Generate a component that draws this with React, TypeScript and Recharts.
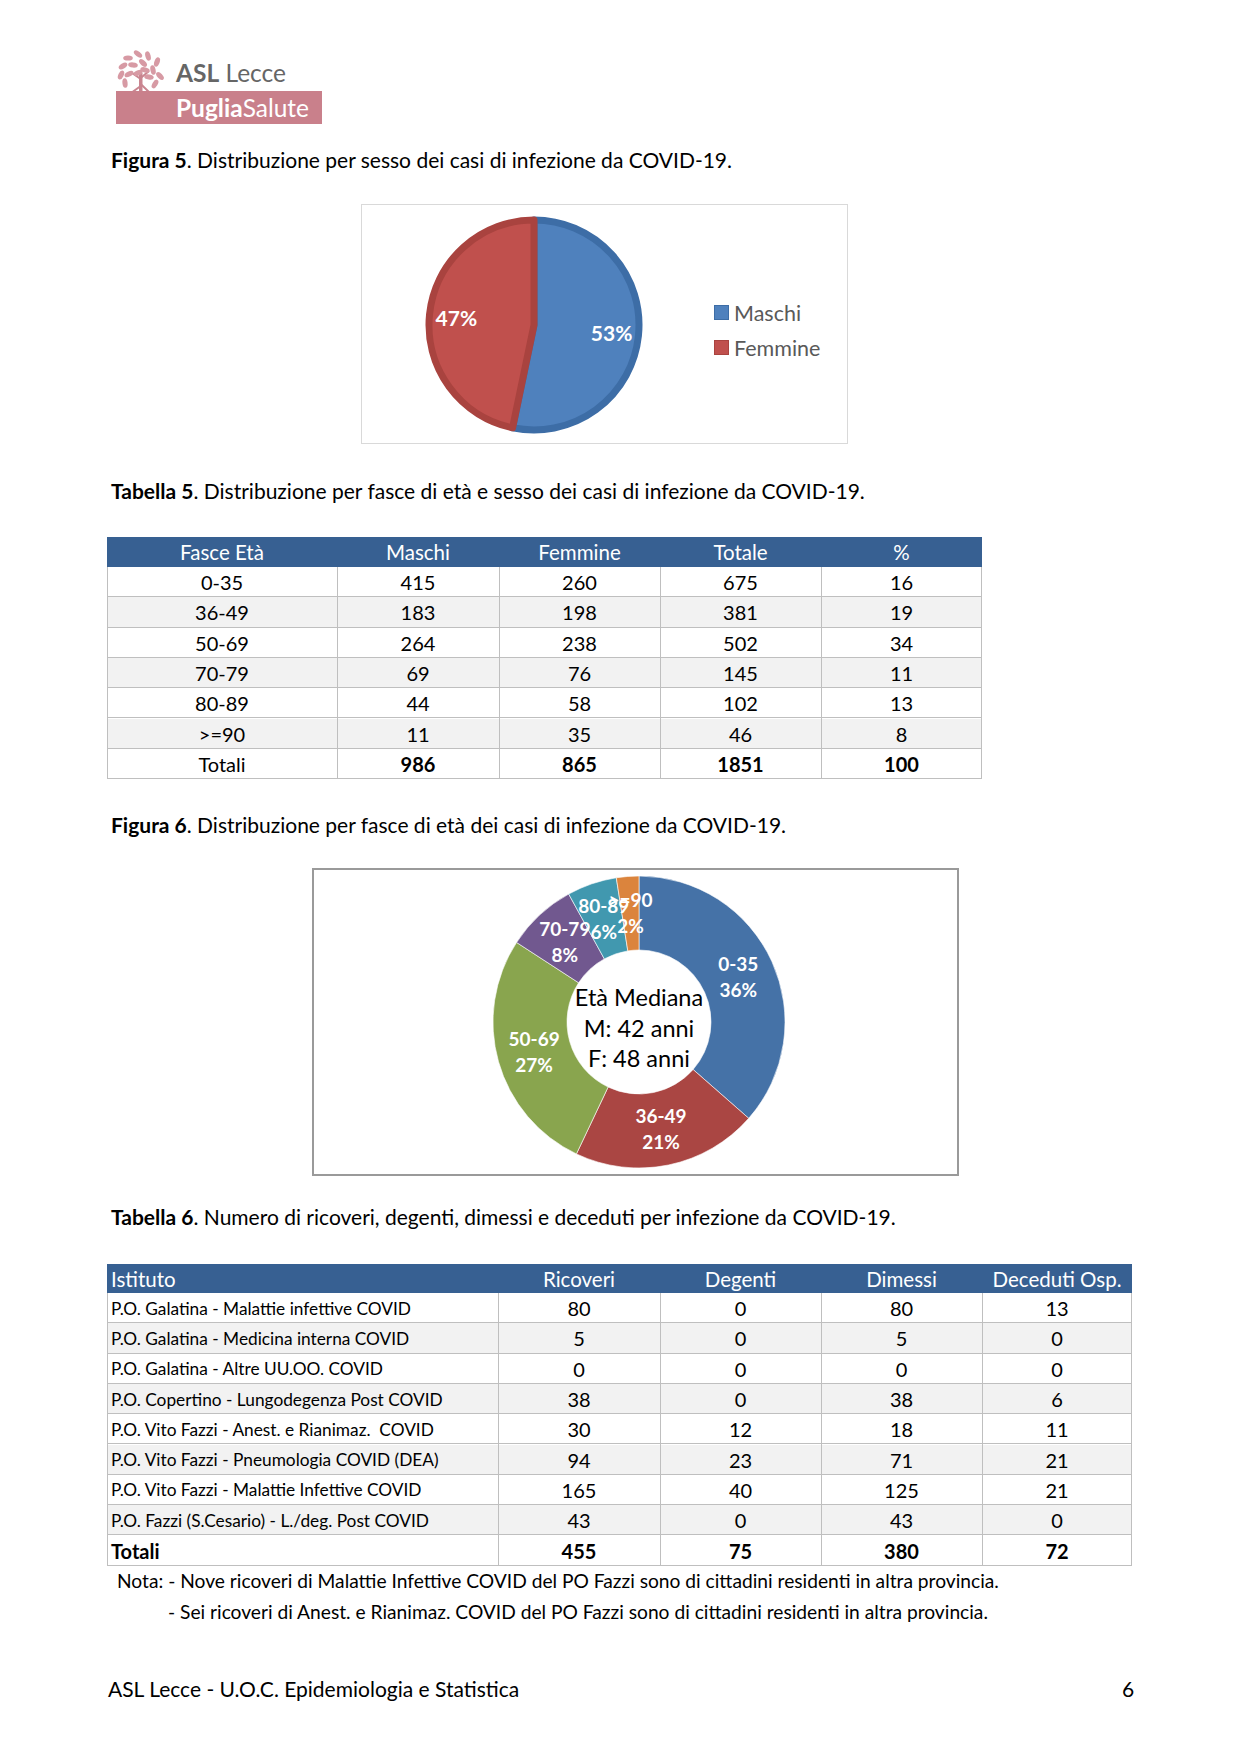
import React from 'react';
import { PieChart, Pie, Cell, Legend } from 'recharts';

const FONT = 'Lato, "Open Sans", sans-serif';
const RAD = Math.PI / 180;
const NO_MARGIN = { top: 0, right: 0, bottom: 0, left: 0 };

// Figura 5 - casi per sesso
const sexLabels = ['Maschi', 'Femmine'];
const sexCases = [986, 865];

// Tabella 5 / Figura 6 - fasce di età
const ageBands = ['0-35', '36-49', '50-69', '70-79', '80-89', '>=90'];
const ageMale = [415, 183, 264, 69, 44, 11];
const ageFemale = [260, 198, 238, 76, 58, 35];
const ageTotal = [675, 381, 502, 145, 102, 46];
const agePct = [16, 19, 34, 11, 13, 8];
const ageTotalsRow = [986, 865, 1851, 100];
const ageHeaders = ['Fasce Età', 'Maschi', 'Femmine', 'Totale', '%'];

// Tabella 6 - ricoveri
const wards = [
  'P.O. Galatina - Malattie infettive COVID',
  'P.O. Galatina - Medicina interna COVID',
  'P.O. Galatina - Altre UU.OO. COVID',
  'P.O. Copertino - Lungodegenza Post COVID',
  'P.O. Vito Fazzi - Anest. e Rianimaz.  COVID',
  'P.O. Vito Fazzi - Pneumologia COVID (DEA)',
  'P.O. Vito Fazzi - Malattie Infettive COVID',
  'P.O. Fazzi (S.Cesario) - L./deg. Post COVID',
];
const ricoveri = [80, 5, 0, 38, 30, 94, 165, 43];
const degenti = [0, 0, 0, 0, 12, 23, 40, 0];
const dimessi = [80, 5, 0, 38, 18, 71, 125, 43];
const deceduti = [13, 0, 0, 6, 11, 21, 21, 0];
const wardHeaders = ['Istituto', 'Ricoveri', 'Degenti', 'Dimessi', 'Deceduti Osp.'];

const SEX_FILL = ['#4f81bd', '#c0504d'];
const SEX_EDGE = ['#3d6da6', '#a9433f'];
const AGE_COLORS = ['#4572a7', '#aa4643', '#89a54e', '#71588f', '#4198af', '#db843d'];
const HEAD_BG = '#376092';
const ROW_ALT = '#f2f2f2';
const GRID = '#bfbfbf';

const sum = (a: number[]) => a.reduce((s, v) => s + v, 0);

const sexData = sexLabels.map((name, i) => ({ name, value: sexCases[i] }));
const ageData = ageBands.map((name, i) => ({ name, value: ageTotal[i] }));

type TxtProps = {
  x: number;
  y: number;
  size?: number;
  children: React.ReactNode;
  color?: string;
};

// testo posizionato col centro verticale su y
const Txt = ({ x, y, size = 21, children, color = '#000' }: TxtProps) => (
  <div
    style={{
      position: 'absolute',
      left: x,
      top: y - size * 0.65,
      fontSize: size,
      lineHeight: `${size * 1.3}px`,
      whiteSpace: 'pre',
      color,
    }}
  >
    {children}
  </div>
);

type GridProps = {
  left: number;
  top: number;
  cols: number[];
  headH: number;
  rowH: number;
  headers: string[];
  rows: (string | number)[][];
  firstLeft?: boolean;
  firstSize?: number;
  lastBold?: boolean;
};

const Grid = ({ left, top, cols, headH, rowH, headers, rows, firstLeft, firstSize = 20, lastBold }: GridProps) => {
  const width = cols[cols.length - 1] - cols[0];
  const cells: React.ReactNode[] = [];
  headers.forEach((h, c) => {
    cells.push(
      <div
        key={`h${c}`}
        style={{
          position: 'absolute',
          left: cols[c] - left,
          top: 0,
          width: cols[c + 1] - cols[c],
          height: headH,
          display: 'flex',
          alignItems: 'center',
          justifyContent: firstLeft && c === 0 ? 'flex-start' : 'center',
          paddingLeft: firstLeft && c === 0 ? 4 : 0,
          boxSizing: 'border-box',
          color: '#fff',
          fontSize: 20.5,
        }}
      >
        {h}
      </div>,
    );
  });
  rows.forEach((row, r) => {
    const isLast = r === rows.length - 1;
    const y = headH + r * rowH;
    cells.push(
      <div
        key={`bg${r}`}
        style={{
          position: 'absolute',
          left: 0,
          top: y,
          width,
          height: rowH,
          background: r % 2 === 1 ? ROW_ALT : '#fff',
          borderBottom: `1px solid ${GRID}`,
          boxSizing: 'border-box',
        }}
      />,
    );
    row.forEach((v, c) => {
      const first = c === 0;
      const bold = isLast && lastBold ? true : isLast && !first;
      cells.push(
        <div
          key={`c${r}-${c}`}
          style={{
            position: 'absolute',
            left: cols[c] - left,
            top: y,
            width: cols[c + 1] - cols[c],
            height: rowH,
            display: 'flex',
            alignItems: 'center',
            justifyContent: firstLeft && first ? 'flex-start' : 'center',
            paddingLeft: firstLeft && first ? 4 : 0,
            boxSizing: 'border-box',
            fontSize: firstLeft && first && !(isLast && lastBold) ? firstSize : 20,
            fontWeight: bold ? 700 : 400,
            whiteSpace: 'pre',
          }}
        >
          {v}
        </div>,
      );
    });
  });
  // linee verticali
  cols.forEach((cx, i) => {
    cells.push(
      <div
        key={`v${i}`}
        style={{
          position: 'absolute',
          left: cx - left - (i === cols.length - 1 ? 1 : 0),
          top: headH,
          width: 1,
          height: rows.length * rowH,
          background: GRID,
        }}
      />,
    );
  });
  return (
    <div style={{ position: 'absolute', left, top, width, height: headH + rows.length * rowH }}>
      <div style={{ position: 'absolute', left: 0, top: 0, width, height: headH, background: HEAD_BG }} />
      {cells}
    </div>
  );
};

const renderSexLabel = (props: any) => {
  const { cx, cy, midAngle, percent } = props;
  const x = cx + 78 * Math.cos(-midAngle * RAD);
  const y = cy + 78 * Math.sin(-midAngle * RAD);
  return (
    <text x={x} y={y} fill="#fff" textAnchor="middle" dominantBaseline="central" fontFamily={FONT} fontWeight={700} fontSize={21}>
      {`${Math.round(percent * 100)}%`}
    </text>
  );
};

const renderAgeLabel = (props: any) => {
  const { cx, cy, midAngle, percent, name } = props;
  const x = cx + 109 * Math.cos(-midAngle * RAD);
  const y = cy + 109 * Math.sin(-midAngle * RAD);
  return (
    <text x={x} y={y} fill="#fff" textAnchor="middle" fontFamily={FONT} fontWeight={700} fontSize={19}>
      <tspan x={x} dy={-6}>{name}</tspan>
      <tspan x={x} dy={26}>{`${Math.round(percent * 100)}%`}</tspan>
    </text>
  );
};

const SexLegend = ({ payload }: any) => {
  const items = [...(payload || [])].sort(
    (a: any, b: any) => sexLabels.indexOf(a.value) - sexLabels.indexOf(b.value),
  );
  return (
    <div style={{ fontFamily: FONT }}>
      {items.map((e: any) => (
        <div key={e.value} style={{ display: 'flex', alignItems: 'center', height: 35 }}>
          <span
            style={{
              width: 13,
              height: 13,
              background: e.color,
              border: `1px solid ${SEX_EDGE[sexLabels.indexOf(e.value)]}`,
              marginRight: 5,
            }}
          />
          <span style={{ fontSize: 21.5, color: '#595959' }}>{e.value}</span>
        </div>
      ))}
    </div>
  );
};

const LEAVES = [
  [12, 9], [22, 5], [32, 7], [41, 13], [7, 17], [17, 16], [27, 14], [37, 21],
  [5, 26], [13, 25], [33, 28], [44, 27], [9, 34], [39, 35], [22, 24], [29, 21],
];

const Logo = () => (
  <div style={{ position: 'absolute', left: 116, top: 49, width: 210, height: 78 }}>
    <svg width={52} height={44} style={{ position: 'absolute', left: 0, top: 0 }}>
      <rect x={23} y={24} width={3.5} height={20} fill="#c98590" />
      <path d="M24.7 37 L15 44 M24.7 35 L34 44 M24.7 30 L16 24 M24.7 29 L33 22" stroke="#c98590" strokeWidth={2} />
      {LEAVES.map(([x, y], i) => (
        <ellipse key={i} cx={x} cy={y} rx={4.8} ry={2.6} fill="#d79aa4" transform={`rotate(${(i * 37) % 180} ${x} ${y})`} />
      ))}
    </svg>
    <div style={{ position: 'absolute', left: 60, top: 8, fontSize: 24.5, color: '#666', whiteSpace: 'pre', lineHeight: '32px' }}>
      <b>ASL</b> Lecce
    </div>
    <div style={{ position: 'absolute', left: 0, top: 42, width: 206, height: 33, background: '#c9808b' }} />
    <div style={{ position: 'absolute', left: 60, top: 42, fontSize: 24.5, color: '#fff', lineHeight: '33px', whiteSpace: 'pre' }}>
      <b>Puglia</b>Salute
    </div>
  </div>
);

export default function App() {
  const wardRows: (string | number)[][] = wards.map((w, i) => [w, ricoveri[i], degenti[i], dimessi[i], deceduti[i]]);
  wardRows.push(['Totali', sum(ricoveri), sum(degenti), sum(dimessi), sum(deceduti)]);
  const ageRows: (string | number)[][] = ageBands.map((b, i) => [b, ageMale[i], ageFemale[i], ageTotal[i], agePct[i]]);
  ageRows.push(['Totali', ...ageTotalsRow]);

  return (
    <div
      style={{
        position: 'absolute',
        left: 0,
        top: 0,
        width: 1241,
        height: 1755,
        background: '#fff',
        fontFamily: FONT,
        color: '#000',
        overflow: 'hidden',
      }}
    >
      <Logo />

      <Txt x={111} y={160}>
        <b>Figura 5</b>. Distribuzione per sesso dei casi di infezione da COVID-19.
      </Txt>

      <div
        style={{
          position: 'absolute',
          left: 361,
          top: 204,
          width: 487,
          height: 240,
          border: '1.5px solid #d9d9d9',
          boxSizing: 'border-box',
        }}
      >
        <PieChart width={484} height={237} margin={NO_MARGIN}>
          <Pie
            data={sexData}
            dataKey="value"
            nameKey="name"
            cx={172}
            cy={120}
            outerRadius={105}
            startAngle={90}
            endAngle={-270}
            strokeWidth={7}
            strokeLinejoin="round"
            label={renderSexLabel}
            labelLine={false}
            isAnimationActive={false}
          >
            {sexData.map((d, i) => (
              <Cell key={d.name} fill={SEX_FILL[i]} stroke={SEX_EDGE[i]} />
            ))}
          </Pie>
          <Legend
            layout="vertical"
            align="right"
            verticalAlign="middle"
            wrapperStyle={{ left: 352, top: 90, width: 130 }}
            content={SexLegend}
          />
        </PieChart>
      </div>

      <Txt x={111} y={491}>
        <b>Tabella 5</b>. Distribuzione per fasce di età e sesso dei casi di infezione da COVID-19.
      </Txt>

      <Grid
        left={107}
        top={537}
        cols={[107, 337, 499, 660, 821, 982]}
        headH={30}
        rowH={30.3}
        headers={ageHeaders}
        rows={ageRows}
      />

      <Txt x={111} y={825}>
        <b>Figura 6</b>. Distribuzione per fasce di età dei casi di infezione da COVID-19.
      </Txt>

      <div
        style={{
          position: 'absolute',
          left: 312,
          top: 868,
          width: 647,
          height: 308,
          border: '2px solid #9a9a9a',
          boxSizing: 'border-box',
        }}
      >
        <PieChart width={643} height={304} margin={NO_MARGIN}>
          <Pie
            data={ageData}
            dataKey="value"
            nameKey="name"
            cx={325}
            cy={152}
            innerRadius={72}
            outerRadius={146}
            startAngle={90}
            endAngle={-270}
            stroke="#ffffff"
            strokeWidth={0.6}
            label={renderAgeLabel}
            labelLine={false}
            isAnimationActive={false}
          >
            {ageData.map((d, i) => (
              <Cell key={d.name} fill={AGE_COLORS[i]} />
            ))}
          </Pie>
        </PieChart>
        {['Età Mediana', 'M: 42 anni', 'F: 48 anni'].map((t, i) => (
          <div
            key={t}
            style={{
              position: 'absolute',
              left: 225,
              width: 200,
              top: 112 + i * 30.5,
              textAlign: 'center',
              fontSize: 23.5,
              lineHeight: '30px',
            }}
          >
            {t}
          </div>
        ))}
      </div>

      <Txt x={111} y={1217}>
        <b>Tabella 6</b>. Numero di ricoveri, degenti, dimessi e deceduti per infezione da COVID-19.
      </Txt>

      <Grid
        left={107}
        top={1264}
        cols={[107, 498, 660, 821, 982, 1132]}
        headH={29}
        rowH={30.3}
        headers={wardHeaders}
        rows={wardRows}
        firstLeft
        firstSize={17.3}
        lastBold
      />

      <Txt x={117} y={1581} size={19.2}>
        Nota: - Nove ricoveri di Malattie Infettive COVID del PO Fazzi sono di cittadini residenti in altra provincia.
      </Txt>
      <Txt x={168} y={1612} size={19.2}>
        - Sei ricoveri di Anest. e Rianimaz. COVID del PO Fazzi sono di cittadini residenti in altra provincia.
      </Txt>

      <Txt x={108} y={1689}>ASL Lecce - U.O.C. Epidemiologia e Statistica</Txt>
      <Txt x={1122} y={1689}>6</Txt>
    </div>
  );
}
